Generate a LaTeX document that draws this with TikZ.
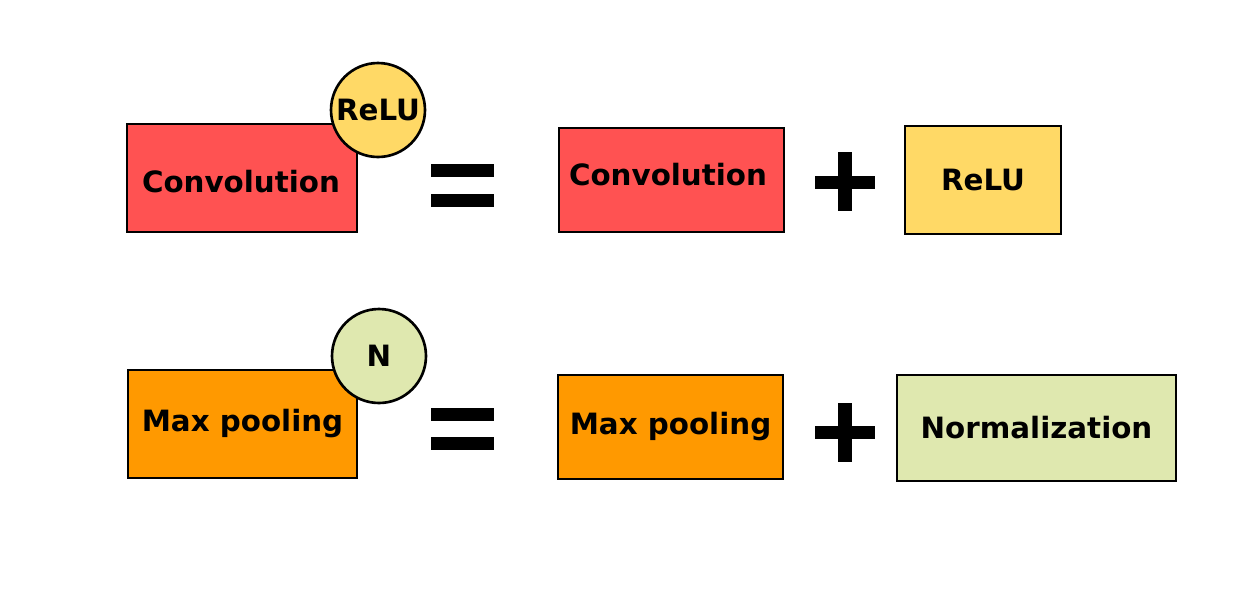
\documentclass[tikz,border=0pt]{standalone}
\usepackage{fontspec}
\setmainfont{DejaVu Sans}
\usetikzlibrary{positioning}

\definecolor{convred}{HTML}{FF5252}
\definecolor{relugold}{HTML}{FFD966}
\definecolor{poolorange}{HTML}{FF9900}
\definecolor{normgreen}{HTML}{DFE8AF}

\tikzset{
  layer/.style={draw=black, line width=1.5pt, rectangle, inner sep=0pt,
    font=\fontsize{16.7}{18}\selectfont\bfseries},
  badge/.style={draw=black, line width=1.5pt, circle, inner sep=0pt,
    minimum size=1.88cm, font=\fontsize{16.7}{18}\selectfont\bfseries},
  sign/.style={fill=black}
}

\begin{document}
\begin{tikzpicture}[x=0.02cm,y=-0.02cm]
\useasboundingbox (0,0) rectangle (1254,613);

% Convolution row
\node[layer, fill=convred, minimum width=4.6cm, minimum height=2.16cm] (conv) at (242,178) {};
\node[font=\fontsize{16.7}{18}\selectfont\bfseries] (convText) at (241,182) {Convolution};
\node[badge, fill=relugold] (reluBadge) at (378,110) {ReLU};
\fill[sign] (431,164) rectangle (494,177);
\fill[sign] (431,194) rectangle (494,207);
\node[layer, fill=convred, minimum width=4.5cm, minimum height=2.08cm] (convOnly) at (671.5,180) {};
\node[font=\fontsize{16.7}{18}\selectfont\bfseries] (convOnlyText) at (668,175) {Convolution};
\fill[sign] (815,176) rectangle (875,189);
\fill[sign] (838,152) rectangle (852,211);
\node[layer, fill=relugold, minimum width=3.12cm, minimum height=2.16cm] (reluOnly) at (983,180) {ReLU};

% Max pooling row
\node[layer, fill=poolorange, minimum width=4.58cm, minimum height=2.16cm] (pool) at (242.5,424) {Max pooling};
\node[badge, fill=normgreen] (normBadge) at (379,356) {N};
\fill[sign] (431,408) rectangle (494,421);
\fill[sign] (431,437) rectangle (494,450);
\node[layer, fill=poolorange, minimum width=4.5cm, minimum height=2.08cm] (poolOnly) at (670.5,427) {Max pooling};
\fill[sign] (815,426) rectangle (875,439);
\fill[sign] (838,403) rectangle (852,462);
\node[layer, fill=normgreen, minimum width=5.58cm, minimum height=2.12cm] (normOnly) at (1036.5,428) {Normalization};

\end{tikzpicture}
\end{document}
